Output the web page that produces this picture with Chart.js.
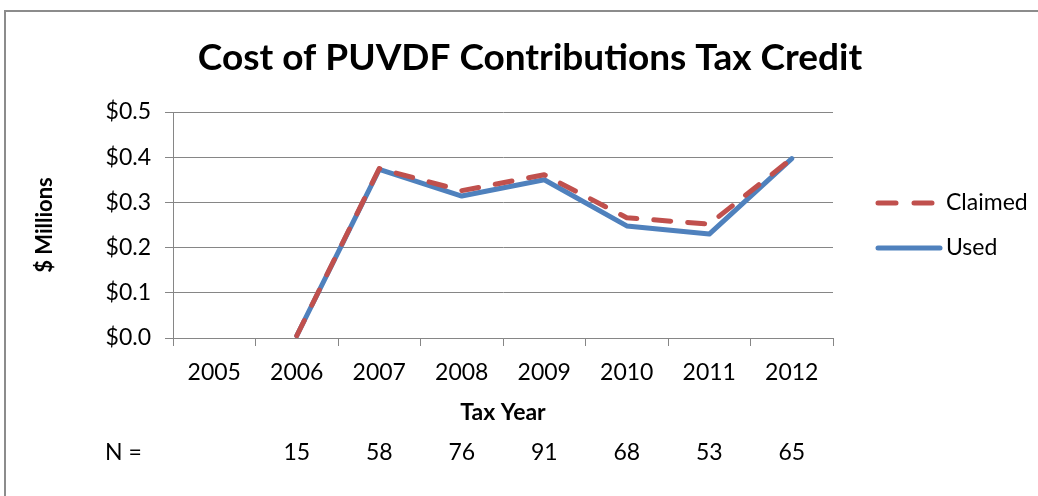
<!DOCTYPE html>
<html>
<head>
<meta charset="utf-8">
<script src="https://cdn.jsdelivr.net/npm/chart.js@4/dist/chart.umd.min.js"></script>
<style>
  html, body { margin: 0; padding: 0; background: #fff; }
  #wrap { width: 1038px; height: 496px; }
</style>
</head>
<body>
<div id="wrap"><canvas id="chart" width="1038" height="496"></canvas></div>
<script>
const TITLE = 'Cost of PUVDF Contributions Tax Credit';
const years = ['2005', '2006', '2007', '2008', '2009', '2010', '2011', '2012'];
const claimed = [null, 0.005, 0.375, 0.326, 0.361, 0.266, 0.252, 0.397];
const used = [null, 0.005, 0.373, 0.314, 0.350, 0.248, 0.230, 0.397];
const nCounts = [null, 15, 58, 76, 91, 68, 53, 65];

const RED = '#C0504D';
const BLUE = '#4F81BD';
const GRID = '#868686';
const FONT = 'Lato, "Open Sans", sans-serif';

// frame, title, legend and the N = row
const extras = {
  id: 'extras',
  beforeDraw(chart) {
    const ctx = chart.ctx;
    ctx.save();
    ctx.fillStyle = '#fff';
    ctx.fillRect(0, 0, chart.width, chart.height);
    ctx.strokeStyle = '#8c8c8c';
    ctx.lineWidth = 2;
    ctx.strokeRect(5, 11, chart.width + 10, chart.height + 10);
    ctx.restore();
  },
  afterDraw(chart) {
    const ctx = chart.ctx;
    const x = chart.scales.x;
    ctx.save();
    ctx.fillStyle = '#000';
    ctx.textBaseline = 'middle';
    ctx.textAlign = 'center';
    ctx.font = `bold 37px ${FONT}`;
    ctx.fillText(TITLE, 530, 58);

    ctx.font = `23px ${FONT}`;
    ctx.textAlign = 'left';
    ctx.fillText('N =', 105, 453);
    ctx.textAlign = 'center';
    nCounts.forEach((n, i) => {
      if (n === null) return;
      ctx.fillText(String(n), x.getPixelForValue(i), 453);
    });

    const items = [
      { label: 'Claimed', color: RED, dash: [18, 18], y: 203 },
      { label: 'Used', color: BLUE, dash: [], y: 248 },
    ];
    items.forEach((item) => {
      ctx.strokeStyle = item.color;
      ctx.lineWidth = 5;
      ctx.lineCap = 'round';
      ctx.setLineDash(item.dash);
      ctx.beginPath();
      ctx.moveTo(878, item.y);
      ctx.lineTo(940, item.y);
      ctx.stroke();
      ctx.setLineDash([]);
      ctx.textAlign = 'left';
      ctx.fillStyle = '#000';
      ctx.fillText(item.label, 946, item.y);
    });
    ctx.restore();
  },
};

new Chart(document.getElementById('chart'), {
  type: 'line',
  data: {
    labels: years,
    datasets: [
      {
        label: 'Claimed',
        data: claimed,
        borderColor: RED,
        borderWidth: 5,
        borderDash: [17, 17],
        borderCapStyle: 'round',
        borderJoinStyle: 'round',
        pointRadius: 0,
        tension: 0,
      },
      {
        label: 'Used',
        data: used,
        borderColor: BLUE,
        borderWidth: 5,
        borderCapStyle: 'round',
        borderJoinStyle: 'round',
        pointRadius: 0,
        tension: 0,
      },
    ],
  },
  options: {
    responsive: false,
    animation: false,
    layout: { padding: { left: 0, right: 205, top: 112, bottom: 58 } },
    scales: {
      x: {
        offset: true,
        grid: { drawOnChartArea: false, drawTicks: true, tickLength: 8, color: GRID, offset: true },
        border: { display: true, color: GRID },
        ticks: { color: '#000', font: { family: FONT, size: 23 }, padding: 13, maxRotation: 0 },
        title: {
          display: true,
          text: 'Tax Year',
          color: '#000',
          font: { family: FONT, size: 23, weight: 'bold' },
          padding: { top: 0, bottom: 12 },
        },
        afterFit(scale) { scale.height = 100; },
      },
      y: {
        min: 0,
        max: 0.5,
        ticks: {
          stepSize: 0.1,
          color: '#000',
          font: { family: FONT, size: 23 },
          padding: 14,
          callback: (v) => `$${Number(v).toFixed(1)}`,
        },
        grid: { color: GRID, tickLength: 8 },
        border: { display: true, color: GRID },
        title: {
          display: true,
          text: '$ Millions',
          color: '#000',
          font: { family: FONT, size: 22, weight: 'bold' },
          padding: { top: 32, bottom: 0 },
        },
        afterFit(scale) { scale.width = 173; },
      },
    },
    plugins: {
      legend: { display: false },
      tooltip: { enabled: false },
      title: { display: false },
    },
  },
  plugins: [extras],
});
</script>
</body>
</html>
